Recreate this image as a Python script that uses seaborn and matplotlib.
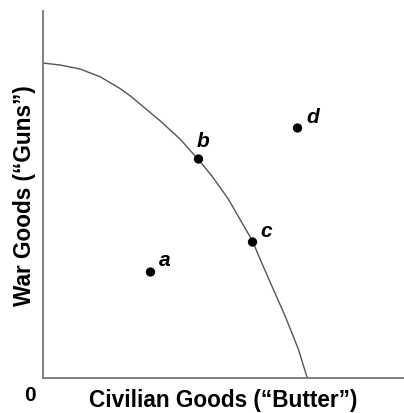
import numpy as np
import pandas as pd
import seaborn as sns
import matplotlib.pyplot as plt

# production possibilities frontier
ppf_x = [0, 17.5, 37.5, 57.5, 77.5, 87.5, 97.5, 117.5, 137.5, 155.8, 169.2,
         185.8, 199.2, 210, 217.5, 229.2, 242.5, 255.8, 264.8]
ppf_y = [315, 313, 309, 301.3, 289.5, 282.3, 274, 257.3, 239, 218.5, 202.3,
         179, 155.7, 137, 119, 92.3, 62.3, 29, 0]

point_names = ['a', 'b', 'c', 'd']
point_x = [108, 156, 210, 255]
point_y = [106, 219, 136, 250]

sns.set_style('white', {'text.color': 'black', 'axes.labelcolor': 'black'})
plt.rcParams['font.family'] = ['Liberation Sans', 'DejaVu Sans']

ppf = pd.DataFrame({'butter': ppf_x, 'guns': ppf_y})
pts = pd.DataFrame({'butter': point_x, 'guns': point_y, 'name': point_names})

fig = plt.figure(figsize=(4.04, 4.14), dpi=100)
ax = fig.add_axes([42.5 / 404, 1 - 379 / 414, 1 - 42.5 / 404, (379 - 12) / 414])

sns.lineplot(data=ppf, x='butter', y='guns', sort=False, color='#555555', linewidth=1.0, ax=ax)
sns.scatterplot(data=pts, x='butter', y='guns', color='black', s=45, edgecolor='none', ax=ax, zorder=3)

# label offsets in points
offsets = {'a': (10, 9), 'b': (3, 13), 'c': (10, 8), 'd': (11, 8)}
for _, row in pts.iterrows():
    ax.annotate(row['name'], (row['butter'], row['guns']), xytext=offsets[row['name']],
                textcoords='offset points', fontsize=15, fontweight='bold', fontstyle='italic',
                ha='center', va='center', color='black')

ax.set_xlim(0, 361.5)
ax.set_ylim(0, 367)
ax.set_xticks([])
ax.set_yticks([])
for side in ['top', 'right']:
    ax.spines[side].set_visible(False)
for side in ['left', 'bottom']:
    ax.spines[side].set_color('#777777')
    ax.spines[side].set_linewidth(1.3)

ax.set_xlabel('Civilian Goods (\u201cButter\u201d)', fontsize=16.3, fontweight='bold', labelpad=7, color='black')
ax.set_ylabel('War Goods (\u201cGuns\u201d)', fontsize=16.3, fontweight='bold', labelpad=5, color='black')
fig.text(30 / 404, 1 - 396 / 414, '0', fontsize=15, fontweight='bold', ha='center', va='center', color='black')

fig.savefig('out.png', dpi=100)
